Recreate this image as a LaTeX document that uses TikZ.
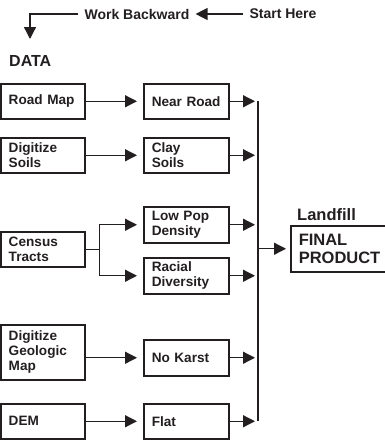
\documentclass[tikz,border=0pt]{standalone}
\usepackage{fontspec}
\setmainfont{Liberation Sans}
\usepackage{tikz}
\usetikzlibrary{arrows.meta,positioning,calc}
\definecolor{inkdark}{RGB}{35,31,32}
\tikzset{
    gisbox/.style={draw=inkdark, line width=1.5pt, anchor=north west,
                   minimum width=#1, text width=#1-16pt, inner xsep=8pt,
                   inner ysep=0pt, align=left, text=inkdark,
                   font=\fontsize{13.6}{15}\selectfont\bfseries},
    gisbox/.default=84pt,
    tag/.style={inner sep=0pt, text=inkdark, font=\fontsize{#1}{#1}\selectfont\bfseries},
    tag/.default=14,
}

\begin{document}
\begin{tikzpicture}[
    x=1pt, y=-1pt,
    arr/.style={-{Triangle[length=12pt,width=12pt]}, line width=1.3pt, inkdark},
    link/.style={line width=1.3pt, inkdark}
]
    \useasboundingbox (0,0) rectangle (385,440);

    % heading
    \node[tag, inner xsep=6pt] (start) at (283,14) {Start Here};
    \node[tag, inner xsep=6pt] (back) at (137,14) {Work Backward};
    \coordinate (datatip) at (30,39);
    \draw[arr] (start.west) -- (back.east);
    \draw[arr] (back.west) -| (datatip);
    \node[tag=16, anchor=base west] (data) at (9,66) {DATA};

    % data layers
    \node[gisbox, minimum height=35pt] (roadmap) at (0,83) {Road Map};
    \node[gisbox, minimum height=35pt] (soils) at (0,137) {Digitize\\Soils};
    \node[gisbox, minimum height=35pt] (census) at (0,231) {Census\\Tracts};
    \node[gisbox, minimum height=55pt] (geology) at (0,324) {Digitize\\Geologic\\Map};
    \node[gisbox, minimum height=35pt] (dem) at (0,403) {DEM};

    % criteria
    \node[gisbox=85pt, minimum height=35pt] (nearroad) at (143,83) {Near Road};
    \node[gisbox=85pt, minimum height=35pt] (clay) at (143,137) {Clay\\Soils};
    \node[gisbox=85pt, minimum height=36pt] (lowpop) at (143,206) {Low Pop\\Density};
    \node[gisbox=85pt, minimum height=36pt] (racial) at (143,257) {Racial\\Diversity};
    \node[gisbox=85pt, minimum height=36pt] (karst) at (143,339) {No Karst};
    \node[gisbox=85pt, minimum height=35pt] (flat) at (143,403) {Flat};

    % result
    \node[gisbox=97pt, minimum height=46pt, font=\fontsize{16.5}{18}\selectfont\bfseries]
        (final) at (290,225) {FINAL\\PRODUCT};
    \node[tag=16.5, anchor=base west] (landfill) at (297,220) {Landfill};

    \draw[arr, shorten >=6pt] (roadmap) -- (nearroad);
    \draw[arr, shorten >=6pt] (soils) -- (clay);
    \draw[arr, shorten >=6pt] (geology.east |- karst) -- (karst);
    \draw[arr, shorten >=6pt] (dem) -- (flat);
    \draw[link] (census.east) -- ++(14,0) coordinate (fork);
    \draw[arr, shorten >=6pt] (fork) |- (lowpop);
    \draw[arr, shorten >=6pt] (fork) |- (racial);

    % collector line
    \coordinate (bus) at (258,0);
    \draw[link] (nearroad.east -| bus) -- (flat.east -| bus);
    \foreach \crit in {nearroad,clay,lowpop,racial,karst,flat}
        \draw[arr, shorten >=3pt] (\crit.east) -- (\crit.east -| bus);
    \draw[arr, shorten >=4pt] (final.west -| bus) -- (final.west);
\end{tikzpicture}
\end{document}
